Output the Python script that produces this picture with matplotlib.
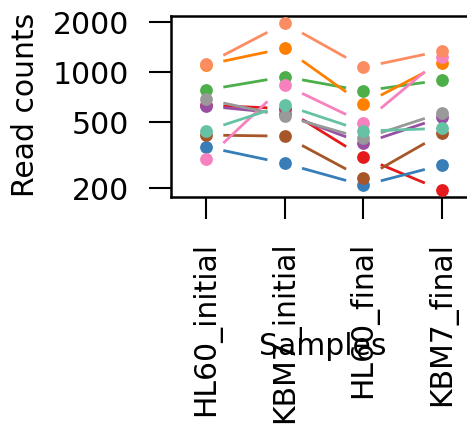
import numpy as np
import matplotlib
matplotlib.use("Agg")
import matplotlib.pyplot as plt

plt.rcParams['font.family'] = ['DejaVu Sans']

samples = ["HL60_initial", "KBM7_initial", "HL60_final", "KBM7_final"]
colors = ["#E41A1C", "#377EB8", "#4DAF4A", "#984EA3", "#FF7F00",
          "#A65628", "#F781BF", "#999999", "#66C2A5", "#FC8D62"]
red    = [634, 605, 308, 195]
blue   = [356, 283, 209, 277]
green  = [782, 941, 772, 899]
purple = [627, 564, 373, 536]
orange = [1110, 1395, 642, 1133]
brown  = [419, 413, 230, 429]
pink   = [299, 838, 497, 1231]
grey   = [688, 545, 400, 571]
teal   = [445, 636, 443, 460]
salmon = [1117, 1972, 1072, 1349]
series = [red, blue, green, purple, orange, brown, pink, grey, teal, salmon]
yticks = [200, 500, 1000, 2000]

W, H = 467, 430
fig = plt.figure(figsize=(W / 100, H / 100), dpi=100)
left_px, right_px, top_px, bot_px = 171, 476, 15.7, 197.3
ax = fig.add_axes([left_px / W, 1 - bot_px / H, (right_px - left_px) / W, (bot_px - top_px) / H])

x = np.arange(len(samples))
gap = 0.22
for vals, col in zip(series, colors):
    v = np.log10(np.array(vals, dtype=float))
    for i in range(len(vals) - 1):
        xs = np.array([x[i] + gap, x[i + 1] - gap])
        ys = 10 ** (v[i] + (xs - x[i]) * (v[i + 1] - v[i]))
        ax.plot(xs, ys, color=col, lw=2.0, solid_capstyle='butt', zorder=2)
    ax.plot(x, vals, 'o', color=col, ms=9.2, mec='none', zorder=3)

ax.set_yscale('log')
ax.set_ylim(177, 2190)
ax.set_xlim(-0.445, 3.43)
ax.set_yticks(yticks)
ax.set_yticklabels([str(t) for t in yticks])
ax.yaxis.set_minor_locator(matplotlib.ticker.NullLocator())
ax.set_xticks(x)
ax.set_xticklabels(samples, rotation=90, va='top', ha='center')
ax.tick_params(axis='both', length=16, width=1.5, labelsize=21.5, color='black')
ax.tick_params(axis='y', pad=14)
ax.tick_params(axis='x', pad=16)
for s in ax.spines.values():
    s.set_linewidth(1.8)

fig.text(26 / W, 1 - 105 / H, "Read counts", rotation=90, ha='center', va='center', fontsize=21.5)
fig.text(323 / W, 1 - 355 / H, "Samples", ha='center', va='baseline', fontsize=21.5, zorder=5)

fig.savefig("out.png", dpi=100)
